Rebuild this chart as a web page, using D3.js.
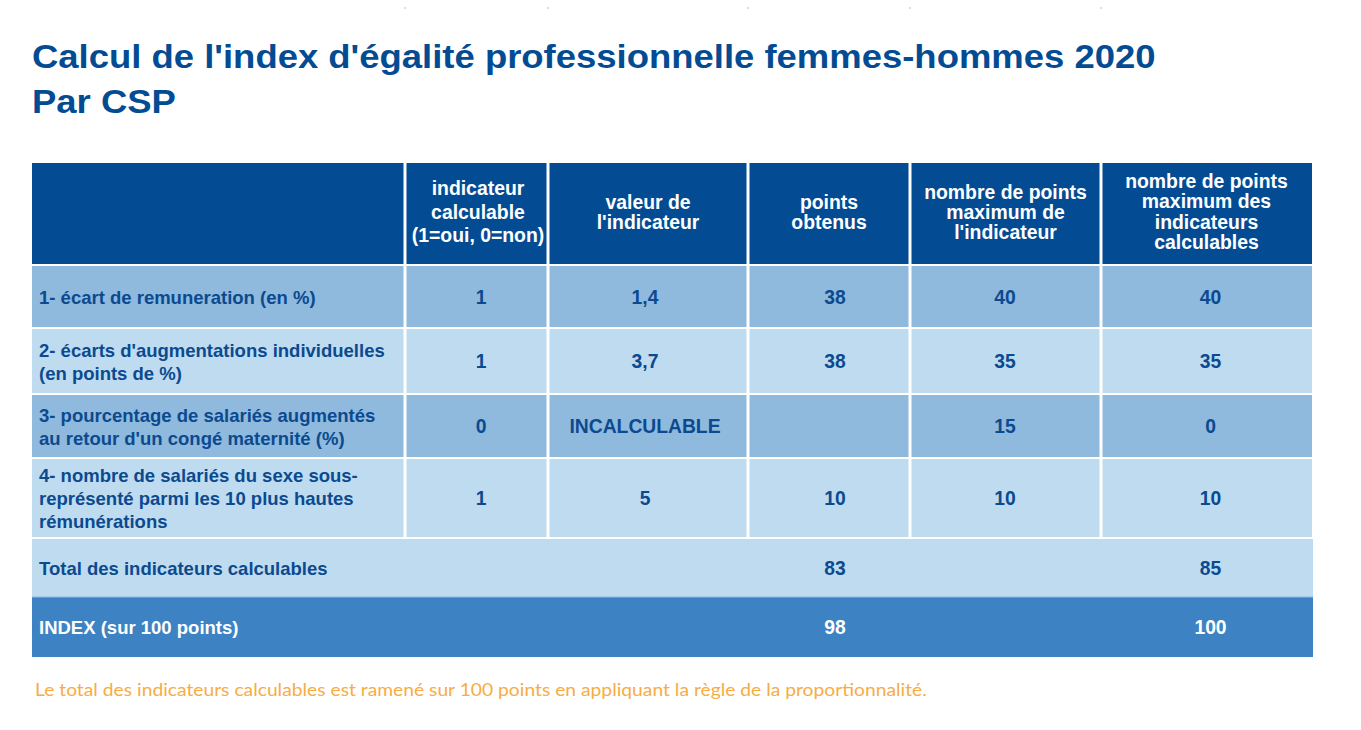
<!DOCTYPE html>
<html><head><meta charset="utf-8">
<script src="https://cdn.jsdelivr.net/npm/d3@7"></script>
<style>body{margin:0;background:#fff}svg{display:block}</style>
</head><body><svg id="c" width="1361" height="730"></svg>
<script>
// ---- data ----
const titleLines = ["Calcul de l'index d'égalité professionnelle femmes-hommes 2020", "Par CSP"];
const headers = [
  [],
  ["indicateur", "calculable", "(1=oui, 0=non)"],
  ["valeur de", "l'indicateur"],
  ["points", "obtenus"],
  ["nombre de points", "maximum de", "l'indicateur"],
  ["nombre de points", "maximum des", "indicateurs", "calculables"]
];
const indicators = [
  ["1- écart de remuneration (en %)"],
  ["2- écarts d'augmentations individuelles", "(en points de %)"],
  ["3- pourcentage de salariés augmentés", "au retour d'un congé maternité (%)"],
  ["4- nombre de salariés du sexe sous-", "représenté parmi les 10 plus hautes", "rémunérations"]
];
const calculable = ["1", "1", "0", "1"];
const valeurs = ["1,4", "3,7", "INCALCULABLE", "5"];
const pointsObtenus = ["38", "38", "", "10"];
const maxIndicateur = ["40", "35", "15", "10"];
const maxCalculables = ["40", "35", "0", "10"];
const totalLabel = "Total des indicateurs calculables";
const totalValues = ["83", "85"];
const indexLabel = "INDEX (sur 100 points)";
const indexValues = ["98", "100"];
const footnote = "Le total des indicateurs calculables est ramené sur 100 points en appliquant la règle de la proportionnalité.";

// ---- layout ----
const svg = d3.select("#c");
const colEdges = [32, 405, 548, 748, 910, 1101, 1312];
const rowEdges = [163, 265, 328, 394, 458, 538, 597, 657];
const colShift = [0, 4.5, -3, 6, -0.5, 4];
const C = {head: "#034C93", dark: "#8FB9DD", light: "#BFDBEF", index: "#3D83C4", text: "#0B4A8F"};
const font = "'Liberation Sans', Arial, sans-serif";

const x = i => colEdges[i];
const y = i => rowEdges[i];

// faint marks at top
svg.selectAll("rect.mk").data(colEdges.slice(1, 6)).join("rect")
  .attr("x", d => d - 1).attr("y", 7).attr("width", 2).attr("height", 2).attr("fill", "#ddd");

// title
svg.append("g").attr("transform", "translate(32,0) scale(1.105,1)")
  .selectAll("text").data(titleLines).join("text")
  .attr("x", 0).attr("y", (d, i) => 68 + i * 45)
  .attr("font-family", font).attr("font-weight", "bold").attr("font-size", 33)
  .attr("fill", "#034C93").text(d => d);

const g = svg.append("g");
// header cells
const cols = d3.range(6);
g.selectAll("rect.h").data(cols).join("rect")
  .attr("x", i => x(i) + (i ? 1.5 : 0)).attr("y", y(0))
  .attr("width", i => x(i + 1) - x(i) - (i ? 1.5 : 0) - (i < 5 ? 1.5 : 0))
  .attr("height", y(1) - y(0) - 1)
  .attr("fill", C.head);

const headLH = [0, 23.5, 20, 20, 20, 20.5];
cols.forEach(i => {
  const lines = headers[i];
  const cx = (x(i) + x(i + 1)) / 2 + (i === 1 ? 1.5 : 0);
  const cy = 212;
  const n = lines.length;
  g.append("g").selectAll("text").data(lines).join("text")
    .attr("x", cx).attr("y", (d, k) => cy + (k - (n - 1) / 2) * headLH[i] + 6.5)
    .attr("text-anchor", "middle").attr("font-family", font).attr("font-weight", "bold")
    .attr("font-size", 19.4).attr("fill", "#fff").text(d => d);
});

// body rows
const rowData = indicators.map((lab, r) => [lab, calculable[r], valeurs[r], pointsObtenus[r], maxIndicateur[r], maxCalculables[r]]);
rowData.forEach((row, r) => {
  const top = y(r + 1) + 1, bot = y(r + 2) - 1;
  const fill = r % 2 === 0 ? C.dark : C.light;
  row.forEach((val, i) => {
    g.append("rect")
      .attr("x", x(i) + (i ? 1.5 : 0)).attr("y", top)
      .attr("width", x(i + 1) - x(i) - (i ? 1.5 : 0) - (i < 5 ? 1.5 : 0))
      .attr("height", bot - top).attr("fill", fill);
    const cy = (top + bot) / 2;
    if (i === 0) {
      const n = val.length;
      g.append("g").selectAll("text").data(val).join("text")
        .attr("x", 39).attr("y", (d, k) => cy + (k - (n - 1) / 2) * 23 + 7)
        .attr("font-family", font).attr("font-weight", "bold").attr("font-size", 18.5)
        .attr("fill", C.text).text(d => d);
    } else {
      g.append("text")
        .attr("x", (x(i) + x(i + 1)) / 2 + colShift[i]).attr("y", cy + 7)
        .attr("text-anchor", "middle").attr("font-family", font).attr("font-weight", "bold")
        .attr("font-size", 19.3).attr("fill", C.text).text(val);
    }
  });
});

// total & index rows
const summary = [
  {label: totalLabel, vals: totalValues, fill: C.light, color: C.text, r: 5},
  {label: indexLabel, vals: indexValues, fill: C.index, color: "#fff", r: 6}
];
summary.forEach(s => {
  const top = y(s.r) + (s.r === 5 ? 1 : 0), bot = y(s.r + 1);
  g.append("rect").attr("x", x(0)).attr("y", top).attr("width", x(6) - x(0) + 1)
    .attr("height", bot - top).attr("fill", s.fill);
  const cy = (top + bot) / 2;
  g.append("text").attr("x", 39).attr("y", cy + 7)
    .attr("font-family", font).attr("font-weight", "bold").attr("font-size", 18.5)
    .attr("fill", s.color).text(s.label);
  [3, 5].forEach((ci, k) => {
    g.append("text").attr("x", (x(ci) + x(ci + 1)) / 2 + colShift[ci]).attr("y", cy + 7)
      .attr("text-anchor", "middle").attr("font-family", font).attr("font-weight", "bold")
      .attr("font-size", 19.3).attr("fill", s.color).text(s.vals[k]);
  });
});
g.append("line").attr("x1", x(0)).attr("x2", x(6) + 1).attr("y1", y(6)).attr("y2", y(6))
  .attr("stroke", "#8FB9DD").attr("stroke-width", 1);

// footnote
svg.append("g").attr("transform", "translate(35,0) scale(1.133,1)")
  .append("text").attr("x", 0).attr("y", 696)
  .attr("font-family", "Lato, 'Open Sans', sans-serif").attr("font-size", 17)
  .attr("fill", "#F7AC45").text(footnote);
</script></body></html>
